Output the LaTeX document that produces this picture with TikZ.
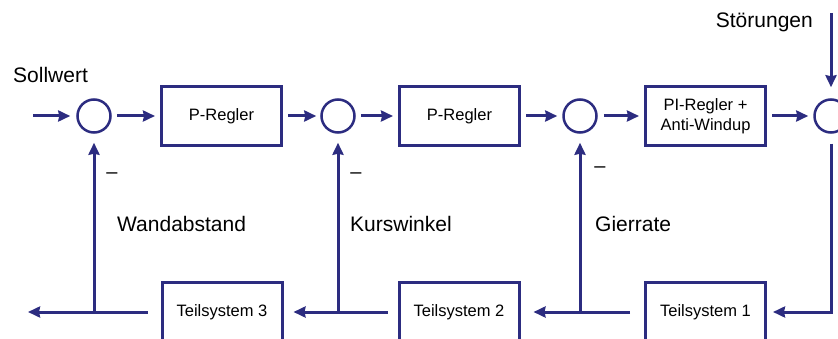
\documentclass[tikz,border=0pt]{standalone}
\usepackage{fontspec}
\setmainfont{Liberation Sans}
\usetikzlibrary{arrows.meta}
\definecolor{navy}{RGB}{44,44,128}
\begin{document}
\begin{tikzpicture}[x=1pt,y=-1pt,
  line/.style={draw=navy, line width=3pt},
  arr/.style={line, -{Stealth[length=12pt,width=11pt,inset=1pt]}},
  blockbox/.style={draw=navy, line width=3pt, minimum width=120pt, minimum height=59pt, inner sep=0pt, font=\fontsize{16.5}{19.5}\selectfont, align=center, fill=white},
  sumc/.style={circle, draw=navy, line width=2.5pt, minimum size=33pt, inner sep=0pt},
  lbl/.style={font=\fontsize{21}{24}\selectfont, inner sep=0pt, anchor=base west},
  minus/.style={font=\fontsize{20}{24}\selectfont, inner sep=0pt, anchor=base}]
\useasboundingbox (0,0) rectangle (838,339);
% blocks
\node[sumc] (s1) at (94,116) {};
\node[blockbox] (b1) at (221.5,116) {P-Regler};
\node[sumc] (s2) at (338,116) {};
\node[blockbox] (b2) at (459.5,116) {P-Regler};
\node[sumc] (s3) at (580,116) {};
\node[blockbox] (b3) at (705.5,116) {PI-Regler +\\Anti-Windup};
\node[sumc] (s4) at (831,116) {};
\node[blockbox] (t1) at (705.5,312) {Teilsystem 1};
\node[blockbox] (t2) at (459,312) {Teilsystem 2};
\node[blockbox] (t3) at (222,312) {Teilsystem 3};
% coordinates
\coordinate (in) at (33,116);
\coordinate (st) at (831,13);
\coordinate (out) at (28,312);
\coordinate (j1) at (580,312);
\coordinate (j2) at (338,312);
\coordinate (j3) at (94,312);
% forward path
\draw[arr, shorten >=6pt] (in) -- (s1);
\draw[arr, shorten <=5pt, shorten >=5pt] (s1) -- (b1);
\draw[arr, shorten <=5pt, shorten >=4pt] (b1) -- (s2);
\draw[arr, shorten <=5pt, shorten >=5pt] (s2) -- (b2);
\draw[arr, shorten <=5pt, shorten >=5pt] (b2) -- (s3);
\draw[arr, shorten <=6pt, shorten >=5pt] (s3) -- (b3);
\draw[arr, shorten <=5pt, shorten >=5pt] (b3) -- (s4);
\draw[arr, shorten >=11pt] (st) -- (s4);
% return path
\draw[arr, shorten <=10pt, shorten >=6pt] (s4) |- (t1);
\draw[arr, shorten <=14pt, shorten >=13pt] (t1) -- (t2);
\draw[arr, shorten <=10pt, shorten >=10pt] (t2) -- (t3);
\draw[arr, shorten <=13pt] (t3) -- (out);
% feedback
\draw[arr, shorten >=9pt] (j1) -- (s3);
\draw[arr, shorten >=9pt] (j2) -- (s2);
\draw[arr, shorten >=9pt] (j3) -- (s1);
% labels
\node[lbl] (sollwert) at (13,83) {Sollwert};
\node[lbl, anchor=base east] (stoer) at (813,28) {Störungen};
\node[lbl] (wand) at (117,232) {Wandabstand};
\node[lbl] (kurs) at (350,232) {Kurswinkel};
\node[lbl] (gier) at (595,232) {Gierrate};
\node[minus] (m1) at (112,179) {–};
\node[minus] (m2) at (356,179) {–};
\node[minus] (m3) at (600,173) {–};
\end{tikzpicture}
\end{document}
